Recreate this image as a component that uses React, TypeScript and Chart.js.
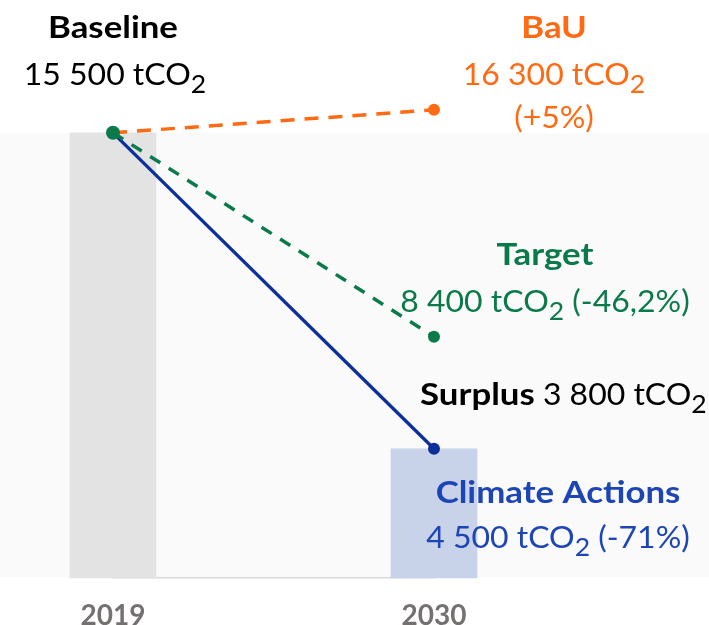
import React, { useEffect, useRef } from 'react';
import { Chart, registerables } from 'chart.js';

Chart.register(...registerables);

// ---- data ----
const years = ['2019', '2030'];
const barValues = [15500, 4500];
const bauValues = [15500, 16300];
const targetValues = [15500, 8400];
const actionValues = [15500, 4500];

// ---- label texts ----
type Run = { t: string; bold?: boolean; sub?: boolean };
const baselineTitle: Run[] = [{ t: 'Baseline', bold: true }];
const baselineValue: Run[] = [{ t: '15 500 tCO' }, { t: '2', sub: true }];
const bauTitle: Run[] = [{ t: 'BaU', bold: true }];
const bauValue: Run[] = [{ t: '16 300 tCO' }, { t: '2', sub: true }];
const bauPct: Run[] = [{ t: '(+5%)' }];
const targetTitle: Run[] = [{ t: 'Target', bold: true }];
const targetValue: Run[] = [{ t: '8 400 tCO' }, { t: '2', sub: true }, { t: ' (-46,2%)' }];
const surplusLine: Run[] = [{ t: 'Surplus', bold: true }, { t: ' 3 800 tCO' }, { t: '2', sub: true }];
const actionsTitle: Run[] = [{ t: 'Climate Actions', bold: true }];
const actionsValue: Run[] = [{ t: '4 500 tCO' }, { t: '2', sub: true }, { t: ' (-71%)' }];

const ORANGE = '#ff6a13';
const GREEN = '#0b7a4b';
const NAVY = '#0c2f9c';
const BLUE_TEXT = '#1d45b5';
const BAR_COLORS = ['#e3e3e3', '#c8d3ea'];
const FONT = 'Lato';
const SIZE = 30;
const STRETCH_BOLD = 1.16;
const STRETCH_REG = 1.065;

function fontStr(size: number, bold?: boolean) {
  return `${bold ? 'bold ' : ''}${size}px ${FONT}`;
}

function drawRuns(ctx: CanvasRenderingContext2D, runs: Run[], x: number, y: number, align: 'left' | 'center', color: string) {
  let w = 0;
  const widths: number[] = [];
  for (const r of runs) {
    ctx.font = fontStr(r.sub ? SIZE * 0.83 : SIZE, r.bold);
    const sx = r.bold ? STRETCH_BOLD : STRETCH_REG;
    const mw = ctx.measureText(r.t).width * sx;
    widths.push(mw);
    w += mw;
  }
  let cx = align === 'center' ? x - w / 2 : x;
  ctx.fillStyle = color;
  ctx.textAlign = 'left';
  ctx.textBaseline = 'alphabetic';
  runs.forEach((r, i) => {
    ctx.font = fontStr(r.sub ? SIZE * 0.83 : SIZE, r.bold);
    const sx = r.bold ? STRETCH_BOLD : STRETCH_REG;
    ctx.save();
    ctx.translate(cx, r.sub ? y + 8 : y);
    ctx.scale(sx, 1);
    ctx.fillText(r.t, 0, 0);
    ctx.restore();
    cx += widths[i];
  });
}

const bgPlugin = {
  id: 'bgBand',
  beforeDraw(chart: any) {
    const { ctx, scales } = chart;
    const top = scales.y.getPixelForValue(barValues[0]);
    const bottom = scales.y.getPixelForValue(0);
    ctx.save();
    ctx.fillStyle = '#fafafa';
    ctx.fillRect(0, top, chart.width, bottom - top - 1);
    ctx.restore();
  },
};

const labelsPlugin = {
  id: 'annotations',
  afterDatasetsDraw(chart: any) {
    const { ctx, scales } = chart;
    const x0 = scales.x.getPixelForValue(0);
    const x1 = scales.x.getPixelForValue(1);
    const yBase = scales.y.getPixelForValue(bauValues[0]);
    const yBau = scales.y.getPixelForValue(bauValues[1]);
    const yTarget = scales.y.getPixelForValue(targetValues[1]);
    const yAct = scales.y.getPixelForValue(actionValues[1]);
    ctx.save();
    drawRuns(ctx, baselineTitle, x0, yBase - 95, 'center', '#000');
    drawRuns(ctx, baselineValue, x0 + 2, yBase - 48, 'center', '#000');
    drawRuns(ctx, bauTitle, x1 + 120, yBau - 72, 'center', ORANGE);
    drawRuns(ctx, bauValue, x1 + 120, yBau - 25, 'center', ORANGE);
    drawRuns(ctx, bauPct, x1 + 120, yBau + 18, 'center', ORANGE);
    drawRuns(ctx, targetTitle, x1 + 111, yTarget - 72, 'center', GREEN);
    drawRuns(ctx, targetValue, x1 + 111, yTarget - 25, 'center', GREEN);
    drawRuns(ctx, surplusLine, x1 - 14, yAct - 44, 'left', '#000');
    drawRuns(ctx, actionsTitle, x1 + 124, yAct + 54, 'center', BLUE_TEXT);
    drawRuns(ctx, actionsValue, x1 + 124, yAct + 99, 'center', BLUE_TEXT);
    ctx.restore();
  },
};

export default function App() {
  const ref = useRef<HTMLCanvasElement | null>(null);

  useEffect(() => {
    document.body.style.margin = '0';
    const canvas = ref.current;
    if (!canvas) return;
    const chart = new Chart(canvas, {
      type: 'bar',
      data: {
        labels: years,
        datasets: [
          {
            type: 'bar',
            data: barValues,
            backgroundColor: BAR_COLORS,
            barThickness: 86,
            clip: false,
            order: 10,
          } as any,
          {
            type: 'line',
            data: bauValues,
            borderColor: ORANGE,
            borderDash: [14, 10],
            borderWidth: 3.5,
            pointRadius: [0, 6],
            pointBackgroundColor: ORANGE,
            pointBorderWidth: 0,
            clip: false,
            order: 3,
          } as any,
          {
            type: 'line',
            data: actionValues,
            borderColor: NAVY,
            borderWidth: 3.3,
            pointRadius: [0, 6],
            pointBackgroundColor: NAVY,
            pointBorderWidth: 0,
            clip: false,
            order: 2,
          } as any,
          {
            type: 'line',
            data: targetValues,
            borderColor: GREEN,
            borderDash: [12, 10],
            borderWidth: 3.5,
            pointRadius: [7, 6],
            pointBackgroundColor: GREEN,
            pointBorderWidth: 0,
            clip: false,
            order: 1,
          } as any,
        ],
      },
      options: {
        animation: false,
        responsive: false,
        layout: { padding: { left: 113, right: 275, top: 61, bottom: 0 } },
        plugins: { legend: { display: false }, tooltip: { enabled: false } },
        scales: {
          x: {
            offset: false,
            grid: { display: true, drawOnChartArea: false, drawTicks: false },
            border: { color: '#d9d9d9', width: 1.5 },
            ticks: {
              padding: 21,
              color: '#767171',
              font: { family: FONT, size: 28, weight: 'bold' },
            },
            afterFit: (s: any) => {
              s.height = 47;
            },
          },
          y: { display: false, min: 0, max: 18000 },
        },
      } as any,
      plugins: [bgPlugin, labelsPlugin],
    });
    return () => chart.destroy();
  }, []);

  return (
    <div style={{ width: 709, height: 625 }}>
      <canvas ref={ref} width={709} height={625} style={{ display: 'block', width: 709, height: 625 }} />
    </div>
  );
}
